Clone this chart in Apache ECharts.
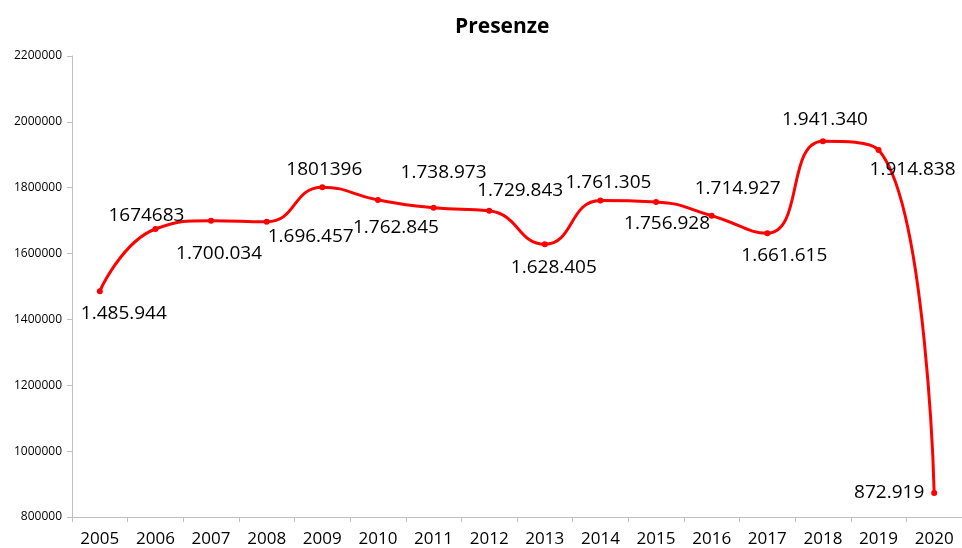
<!DOCTYPE html>
<html>
<head>
<meta charset="utf-8">
<title>Presenze</title>
<script src="https://cdn.jsdelivr.net/npm/echarts@6/dist/echarts.min.js"></script>
<style>
    html, body { margin: 0; padding: 0; background: #fff; }
    #chartArea { width: 962px; height: 548px; }
</style>
</head>
<body>
<div id="chartArea"></div>
<script>
// dati
var years = ['2005', '2006', '2007', '2008', '2009', '2010', '2011', '2012',
    '2013', '2014', '2015', '2016', '2017', '2018', '2019', '2020'];
var presenze = [1485944, 1674683, 1700034, 1696457, 1801396, 1762845, 1738973, 1729843,
    1628405, 1761305, 1756928, 1714927, 1661615, 1941340, 1914838, 872919];
// etichette come nel grafico originale (alcune senza separatore)
var labelTexts = ['1.485.944', '1674683', '1.700.034', '1.696.457', '1801396', '1.762.845',
    '1.738.973', '1.729.843', '1.628.405', '1.761.305', '1.756.928', '1.714.927',
    '1.661.615', '1.941.340', '1.914.838', '872.919'];
var yTicks = ['800000', '1000000', '1200000', '1400000', '1600000', '1800000', '2000000', '2200000'];

// spostamento etichette rispetto al punto (px)
var labelOffsets = [[24, 22], [-9, -13], [8, 33], [44, 15], [2, -18], [18, 28], [10, -35], [31, -20],
    [9, 23], [8, -18], [11, 22], [26, -27], [17, 22], [2, -22], [34, 20], [-45, 0]];

var dom = document.getElementById('chartArea');
var myChart = echarts.init(dom);

var seriesData = [];
for (var i = 0; i < presenze.length; i++) {
    seriesData.push({
        value: presenze[i],
        label: {offset: labelOffsets[i]}
    });
}

var option = {
    animation: false,
    textStyle: {fontFamily: 'Open Sans'},
    title: {
        text: 'Presenze',
        left: 450,
        top: 12,
        textStyle: {fontFamily: 'Open Sans', fontSize: 21, fontWeight: 'bold', color: '#000'}
    },
    grid: {
        left: 72,
        top: 56,
        bottom: 30,
        width: 893
    },
    xAxis: {
        type: 'category',
        data: years,
        boundaryGap: true,
        axisLine: {lineStyle: {color: '#bfbfbf', width: 1}},
        axisTick: {show: true, length: 5, lineStyle: {color: '#bfbfbf'}},
        axisLabel: {color: '#000', fontSize: 17, margin: 14, interval: 0}
    },
    yAxis: {
        type: 'value',
        min: +yTicks[0],
        max: +yTicks[yTicks.length - 1],
        interval: 200000,
        splitLine: {show: false},
        axisLine: {show: true, lineStyle: {color: '#bfbfbf', width: 1}},
        axisTick: {show: true, length: 5, lineStyle: {color: '#bfbfbf'}},
        axisLabel: {
            color: '#000', fontSize: 12, margin: 10,
            formatter: function (v) { return String(v); }
        }
    },
    series: [{
        type: 'line',
        data: seriesData,
        smooth: 0.5,
        symbol: 'circle',
        symbolSize: 6,
        lineStyle: {color: '#ff0000', width: 3},
        itemStyle: {color: '#ff0000'},
        label: {
            show: true,
            position: 'inside',
            align: 'center',
            verticalAlign: 'middle',
            fontSize: 19,
            color: '#000',
            formatter: function (p) { return labelTexts[p.dataIndex]; }
        }
    }]
};
myChart.setOption(option);
</script>
</body>
</html>
